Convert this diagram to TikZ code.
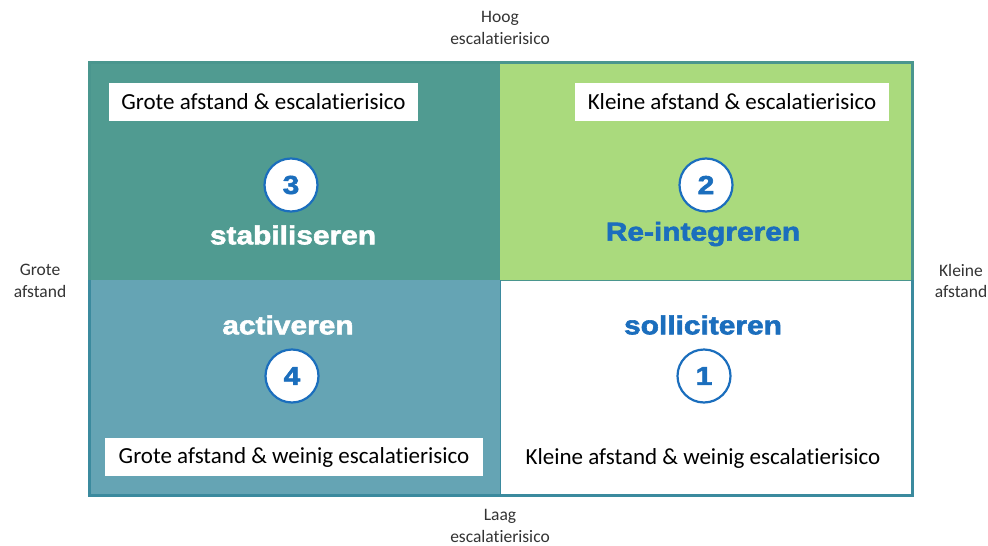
\documentclass[tikz,border=0pt]{standalone}
\usepackage{fontspec}
\setmainfont{Carlito}[Ligatures={NoCommon}]
\newfontfamily\heavy{Liberation Sans Bold}[FakeBold=2.2, FakeStretch=1.15]
\definecolor{tealq}{HTML}{509B91}
\definecolor{greenq}{HTML}{AADA7D}
\definecolor{blueq}{HTML}{65A4B4}
\definecolor{frameT}{HTML}{4A968E}
\definecolor{frameB}{HTML}{3B8A9E}
\definecolor{inkblue}{HTML}{1B6EBD}
\definecolor{axisgray}{HTML}{333333}
\tikzset{
  axislabel/.style={align=center, text=axisgray, font=\fontsize{17.5}{21.5}\selectfont, inner sep=0pt},
  tagbox/.style={fill=white, inner sep=0pt, minimum height=38pt, font=\fontsize{23}{26}\selectfont, text=black},
  numdisk/.style={circle, draw=inkblue, line width=2.2pt, fill=white, minimum size=53pt, inner sep=0pt,
    text=inkblue, font=\heavy\fontsize{26}{28}\selectfont},
  verb/.style={font=\heavy\fontsize{26}{30}\selectfont, inner sep=0pt}
}
\begin{document}
\begin{tikzpicture}[x=1pt, y=-1pt]
\useasboundingbox (0,0) rectangle (988,546);
% quadrant fills
\fill[tealq]  (89,62)  rectangle (500,280);
\fill[greenq] (500,62) rectangle (912,280);
\fill[blueq]  (89,280) rectangle (500,495);
\fill[white]  (500,280) rectangle (912,495);
% thin inner edges
\draw[frameT, line width=1pt] (500,280) -- (912,280);
\draw[frameB, line width=0.8pt] (500,280) -- (500,495);
% outer frame
\draw[frameT, line width=3pt] (89,280) -- (89,62) -- (912,62) -- (912,280);
\draw[frameB, line width=3pt] (912,280) -- (912,495) -- (89,495) -- (89,280);

% axis labels
\node[axislabel] (hoog)   at (500,28)  {Hoog\\escalatierisico};
\node[axislabel] (laag)   at (500,526) {Laag\\escalatierisico};
\node[axislabel] (grote)  at (40,281)  {Grote\\afstand};
\node[axislabel] (kleine) at (961,281) {Kleine\\afstand};

% quadrant 3
\node[tagbox, minimum width=309pt] (tag3) at (263.5,102) {Grote afstand \& escalatierisico};
\node[numdisk] (n3) at (291,185) {3};
\node[verb, text=white] (v3) at (293,235) {stabiliseren};

% quadrant 2
\node[tagbox, minimum width=314pt] (tag2) at (732,102) {Kleine afstand \& escalatierisico};
\node[numdisk] (n2) at (706,185) {2};
\node[verb, text=inkblue] (v2) at (703,234) {Re-integreren};

% quadrant 4
\node[verb, text=white] (v4) at (288,325) {activeren};
\node[numdisk] (n4) at (292,376) {4};
\node[tagbox, minimum width=378pt] (tag4) at (294,457) {Grote afstand \& weinig escalatierisico};

% quadrant 1
\node[verb, text=inkblue] (v1) at (703,325) {solliciteren};
\node[numdisk] (n1) at (704,376) {1};
\node[tagbox, minimum width=360pt] (tag1) at (703,458) {Kleine afstand \& weinig escalatierisico};
\end{tikzpicture}
\end{document}
